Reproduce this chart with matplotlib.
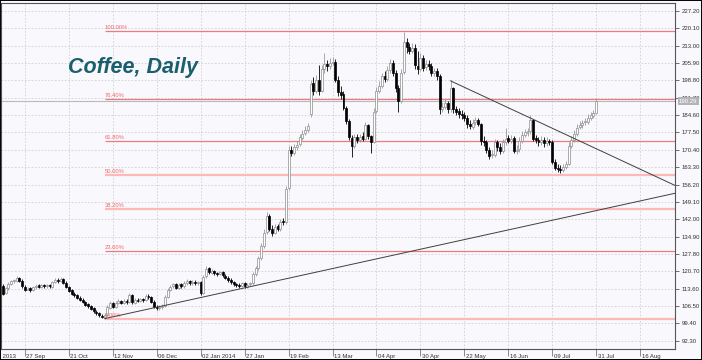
import numpy as np
import matplotlib
matplotlib.use("Agg")
import matplotlib.pyplot as plt
from matplotlib.patches import Rectangle
from matplotlib.transforms import blended_transform_factory, ScaledTranslation

# daily candles, bar 0 is the first bar visible at the left edge
opens = [
    114.6, 111.7, 113.7, 115.5, 116.7, 116.9, 117.9, 116.9, 114.4, 113.1,
    113.7, 113.0, 114.1, 114.9, 114.3, 115.1, 114.5, 115.0, 114.4, 116.4,
    117.3, 116.7, 117.5, 116.1, 114.1, 112.9, 111.4, 111.0, 109.7, 109.1,
    108.1, 107.1, 106.3, 105.5, 104.2, 103.6, 102.5, 101.9, 102.9, 105.8,
    107.7, 106.1, 107.9, 108.5, 107.8, 108.7, 108.1, 110.9, 107.9, 109.1,
    108.5, 109.3, 108.9, 110.7, 110.1, 108.3, 106.1, 105.5, 106.0, 106.5,
    110.3, 113.1, 114.5, 115.4, 113.9, 115.3, 114.5, 116.1, 116.7, 115.7,
    116.5, 115.8, 116.3, 111.9, 118.6, 121.9, 120.1, 120.9, 119.9, 119.5,
    120.4, 118.9, 118.1, 117.1, 116.4, 115.4, 115.1, 114.5, 115.9, 114.4,
    115.3, 115.7, 119.6, 121.9, 126.1, 130.9, 136.6, 143.4, 138.1, 136.4,
    139.1, 137.9, 141.1, 140.7, 154.6, 170.4, 169.1, 171.4, 172.6, 175.4,
    177.1, 178.4, 185.0, 197.6, 194.4, 199.1, 194.6, 203.4, 205.6, 204.7,
    206.1, 206.4, 199.1, 193.9, 193.1, 187.4, 182.1, 175.4, 172.1, 175.6,
    174.4, 175.9, 174.9, 180.6, 175.9, 173.6, 186.1, 194.4, 196.6, 200.6,
    199.4, 203.1, 206.1, 201.9, 195.6, 190.4, 202.1, 214.4, 212.6, 210.9,
    212.1, 204.9, 203.6, 207.9, 204.1, 205.4, 204.6, 201.9, 202.6, 200.4,
    187.1, 187.9, 189.6, 186.9, 195.6, 186.9, 186.1, 184.9, 184.6, 183.4,
    181.1, 179.9, 181.6, 182.4, 181.1, 173.9, 173.6, 170.4, 168.1, 168.4,
    173.6, 171.4, 170.1, 173.4, 175.1, 173.9, 175.1, 169.9, 170.6, 173.9,
    176.6, 177.4, 178.1, 182.4, 175.1, 174.4, 173.6, 174.4, 173.1, 173.9,
    173.6, 165.4, 163.1, 162.4, 162.1, 163.4, 164.6, 171.9, 174.6, 176.9,
    179.6, 180.4, 181.6, 181.9, 183.6, 184.4, 185.6,
]
highs = [
    115.3, 114.3, 116.2, 117.2, 117.6, 118.6, 118.4, 117.5, 115.0, 114.3,
    114.3, 114.7, 115.4, 115.3, 115.6, 115.6, 115.5, 115.5, 116.9, 117.9,
    117.8, 118.2, 118.0, 116.7, 114.7, 113.5, 112.1, 111.6, 110.4, 109.8,
    108.7, 107.8, 106.9, 106.1, 104.9, 104.2, 103.1, 103.5, 106.8, 108.6,
    108.2, 108.5, 109.3, 109.1, 109.4, 109.3, 111.8, 111.3, 109.8, 109.7,
    109.9, 109.8, 111.2, 111.4, 110.7, 108.9, 106.8, 106.7, 107.2, 110.9,
    113.9, 115.2, 116.1, 115.8, 115.9, 115.7, 116.7, 117.4, 117.1, 117.1,
    117.2, 116.9, 116.9, 119.2, 122.8, 122.4, 121.6, 121.4, 120.6, 121.0,
    120.9, 119.6, 118.7, 117.8, 116.9, 116.1, 115.8, 116.5, 116.4, 115.8,
    116.5, 120.3, 122.8, 127.0, 132.2, 137.8, 145.1, 144.0, 139.5, 140.2,
    140.0, 142.0, 142.6, 155.5, 172.0, 171.8, 172.8, 174.0, 177.0, 178.5,
    180.0, 181.2, 199.0, 200.0, 201.0, 205.0, 205.0, 210.0, 207.0, 208.0,
    208.5, 207.5, 200.5, 196.5, 194.5, 188.5, 183.0, 176.5, 177.0, 177.0,
    177.0, 177.5, 181.8, 181.0, 176.5, 187.5, 196.0, 198.5, 202.0, 202.5,
    204.5, 207.5, 207.0, 203.0, 197.0, 203.5, 218.8, 216.0, 214.0, 214.0,
    213.5, 211.0, 210.0, 209.0, 207.0, 207.0, 206.0, 204.0, 204.0, 201.5,
    190.0, 191.0, 190.5, 199.0, 196.0, 188.5, 187.5, 186.5, 186.0, 184.5,
    182.5, 183.0, 184.0, 183.5, 181.5, 176.0, 174.5, 171.5, 170.5, 175.0,
    174.5, 173.0, 175.0, 179.5, 176.5, 176.5, 176.0, 172.5, 175.5, 178.0,
    179.0, 179.5, 184.6, 183.0, 176.5, 175.5, 176.0, 175.5, 175.5, 175.0,
    174.5, 166.5, 164.5, 164.0, 164.5, 166.0, 173.5, 176.0, 178.5, 181.0,
    182.0, 182.8, 183.5, 185.0, 186.0, 186.8, 191.6,
]
lows = [
    111.0, 111.2, 113.2, 115.0, 116.0, 116.5, 116.2, 114.0, 112.6, 112.9,
    112.4, 112.6, 113.6, 113.8, 113.8, 114.0, 114.0, 114.0, 114.0, 115.8,
    116.0, 116.3, 115.5, 113.7, 112.2, 110.9, 110.3, 109.2, 108.4, 107.6,
    106.4, 105.8, 104.8, 103.7, 102.9, 102.0, 101.4, 101.0, 102.5, 105.2,
    105.6, 105.6, 107.3, 107.2, 107.3, 107.5, 107.6, 107.4, 107.4, 108.0,
    108.0, 108.3, 108.4, 109.4, 107.6, 105.6, 104.8, 105.0, 105.3, 106.0,
    109.8, 112.5, 113.8, 113.4, 113.4, 113.9, 114.0, 115.2, 115.1, 115.2,
    115.2, 115.2, 111.0, 111.5, 117.8, 119.4, 119.6, 119.2, 118.9, 119.0,
    118.4, 117.4, 116.5, 115.6, 114.8, 114.3, 113.9, 114.1, 113.9, 113.8,
    114.6, 115.1, 118.9, 121.2, 125.3, 130.2, 135.9, 137.2, 135.3, 135.8,
    137.0, 137.2, 139.5, 140.0, 153.8, 167.8, 168.3, 170.5, 171.8, 174.6,
    176.4, 177.5, 184.0, 193.0, 193.5, 193.0, 194.0, 202.0, 202.5, 203.5,
    205.0, 198.0, 192.5, 191.0, 186.5, 181.0, 174.5, 167.5, 171.0, 173.0,
    173.5, 174.0, 174.5, 175.0, 169.0, 173.0, 185.5, 193.5, 195.5, 198.0,
    198.5, 202.0, 200.5, 194.0, 186.0, 189.5, 201.5, 210.0, 209.5, 210.0,
    203.5, 201.5, 202.5, 202.5, 203.0, 203.0, 200.5, 200.5, 199.0, 185.0,
    186.0, 187.0, 185.5, 186.0, 185.5, 184.5, 183.5, 183.0, 182.0, 179.5,
    179.0, 179.0, 180.5, 180.0, 172.5, 172.0, 169.0, 166.5, 167.0, 167.5,
    170.0, 168.5, 169.0, 172.5, 173.0, 173.0, 169.0, 168.5, 169.5, 173.0,
    175.5, 176.0, 177.0, 174.0, 173.0, 172.0, 172.5, 171.5, 172.0, 172.5,
    164.5, 162.0, 161.5, 160.9, 161.5, 162.5, 164.0, 171.0, 173.5, 176.0,
    179.0, 179.5, 180.5, 181.0, 182.5, 183.5, 185.0,
]
closes = [
    111.6, 113.8, 115.6, 116.6, 117.0, 117.8, 116.8, 114.5, 113.2, 113.6,
    113.0, 114.2, 114.8, 114.4, 115.0, 114.6, 114.9, 114.5, 116.3, 117.2,
    116.8, 117.4, 116.0, 114.2, 112.8, 111.5, 110.9, 109.8, 109.0, 108.2,
    107.0, 106.4, 105.4, 104.3, 103.5, 102.6, 102.0, 102.8, 106.0, 107.6,
    106.2, 107.8, 108.4, 107.9, 108.6, 108.2, 110.8, 108.0, 109.0, 108.6,
    109.2, 109.0, 110.6, 110.2, 108.2, 106.2, 105.6, 105.9, 106.6, 110.2,
    113.2, 114.4, 115.3, 114.0, 115.2, 114.6, 116.0, 116.6, 115.8, 116.4,
    115.9, 116.2, 111.8, 118.5, 121.8, 120.2, 120.8, 120.0, 119.6, 120.3,
    119.0, 118.0, 117.2, 116.3, 115.5, 115.0, 114.6, 115.8, 114.5, 115.2,
    115.8, 119.5, 122.0, 126.0, 131.0, 136.5, 143.5, 138.0, 136.5, 139.0,
    138.0, 141.0, 140.8, 154.5, 170.5, 169.0, 171.5, 172.5, 175.5, 177.0,
    178.5, 180.0, 197.5, 194.5, 199.0, 194.5, 203.5, 205.5, 204.8, 206.0,
    206.5, 199.0, 194.0, 193.0, 187.5, 182.0, 175.5, 172.0, 175.5, 174.5,
    175.8, 175.0, 180.5, 176.0, 173.5, 186.0, 194.5, 196.5, 200.5, 199.5,
    203.0, 206.0, 202.0, 195.5, 190.5, 202.0, 214.5, 212.5, 211.0, 212.0,
    205.0, 203.5, 208.0, 204.0, 205.5, 204.5, 202.0, 202.5, 200.5, 187.0,
    188.0, 189.5, 187.0, 195.5, 187.0, 186.0, 185.0, 184.5, 183.5, 181.0,
    180.0, 181.5, 182.5, 181.0, 174.0, 173.5, 170.5, 168.0, 168.5, 173.5,
    171.5, 170.0, 173.5, 175.0, 174.0, 175.0, 170.0, 170.5, 174.0, 176.5,
    177.5, 178.0, 182.5, 175.0, 174.5, 173.5, 174.5, 173.0, 174.0, 173.5,
    165.5, 163.0, 162.5, 162.0, 163.5, 164.5, 172.0, 174.5, 177.0, 179.5,
    180.5, 181.5, 182.0, 183.5, 184.5, 185.5, 190.29,
]

date_ticks = [-8, 8, 24, 40, 56, 72, 88, 104, 120, 136, 152, 168, 184, 200, 216, 232]
date_labels = ['05 Sep 2013', '27 Sep', '21 Oct', '12 Nov', '06 Dec', '02 Jan 2014',
               '27 Jan', '19 Feb', '13 Mar', '04 Apr', '30 Apr', '22 May',
               '16 Jun', '09 Jul', '31 Jul', '16 Aug']
price_ticks = [227.20, 220.10, 213.00, 205.90, 198.80, 191.70, 184.60, 177.50,
               170.40, 163.30, 156.20, 149.10, 142.00, 134.90, 127.80, 120.70,
               113.60, 106.50, 99.40, 92.30]

# fibonacci retracement from the Nov low to the Apr high
fib_start_bar = 37
fib_low, fib_high = 101.0, 218.9
fib_levels = [1.0, 0.764, 0.618, 0.5, 0.382, 0.236, 0.0]
fib_names = ['100.00%', '76.40%', '61.80%', '50.00%', '38.20%', '23.60%', '0.00%']

# trend lines as (bar, price) anchor pairs
support_line = [(37, 101.3), (88, 113.9)]
resist_line = [(163, 198.6), (244, 156.2)]

last_price = 190.29

W, H = 702, 360
BG = '#f8f8fd'
small = ['Liberation Sans Narrow', 'Liberation Sans', 'DejaVu Sans']

fig = plt.figure(figsize=(W / 100, H / 100), dpi=100, facecolor=BG)
ax = fig.add_axes([1 / W, 11 / H, 674 / W, 346.5 / H], facecolor=BG)

x = np.arange(len(closes))
o = np.array(opens)
c = np.array(closes)
hi = np.array(highs)
lo = np.array(lows)
up = c >= o

# grid
for t in date_ticks:
    ax.axvline(t, color='#cfcfd4', lw=0.6, ls=(0, (2, 2)), zorder=0)
for p in price_ticks:
    ax.axhline(p, color='#cfcfd4', lw=0.6, ls=(0, (2, 2)), zorder=0)

# fibo levels
for lev, name in zip(fib_levels, fib_names):
    price = fib_low + lev * (fib_high - fib_low)
    thick = name in ('50.00%', '38.20%', '0.00%')
    ax.plot([fib_start_bar, 260], [price, price],
            color='#ffb8b8' if thick else '#ee7b7b',
            lw=1.6 if thick else 0.9, zorder=1, solid_capstyle='butt')
    ax.text(fib_start_bar, price + 0.6, name, fontsize=4.2, color='#f06a6a',
            family=small, ha='left', va='bottom', zorder=5)

# bid line
ax.axhline(last_price, color='#b9b9bf', lw=0.8, zorder=1)

# candles
wick_col = np.where(up, '#9a9a9a', '#000000')
ax.vlines(x, lo, hi, colors=wick_col, lw=0.6, zorder=3)
body_h = np.maximum(np.abs(c - o), 0.25)
ax.bar(x, body_h, bottom=np.minimum(o, c), width=0.72,
       color=np.where(up, '#ffffff', '#000000'),
       edgecolor=np.where(up, '#8c8c8c', '#000000'), linewidth=0.5, zorder=4)

# trend lines
for (x0, y0), (x1, y1) in (support_line, resist_line):
    k = (y1 - y0) / (x1 - x0)
    xs = np.array([x0, 260])
    ax.plot(xs, y0 + k * (xs - x0), color='#404040', lw=0.7, zorder=5)

# axes styling
for side, sp in ax.spines.items():
    sp.set_color('#555555')
    sp.set_linewidth(0.8)
ax.yaxis.tick_right()
ax.set_yticks(price_ticks)
ax.set_yticklabels([f'{p:.2f}' for p in price_ticks])
ax.set_xticks(date_ticks)
ax.set_xticklabels(date_labels)
ax.set_xlim(-0.7, 244.7)
ax.set_ylim(88.89, 230.68)
ax.tick_params(axis='y', direction='out', length=3, width=0.6, color='#555555',
               pad=1.5, labelsize=4.3, labelcolor='#333333')
ax.tick_params(axis='x', direction='out', length=5, width=0.6, color='#777777',
               pad=-1.5, labelsize=4.3, labelcolor='#333333')
for lab in ax.get_yticklabels() + ax.get_xticklabels():
    lab.set_family(small)
shift = ScaledTranslation(1.5 / 100, 0, fig.dpi_scale_trans)
for lab in ax.get_xticklabels():
    lab.set_horizontalalignment('left')
    lab.set_transform(lab.get_transform() + shift)

# the first date label sits left of the view and is cut by the frame
xtr = blended_transform_factory(ax.transData, ax.transAxes)
ax.text(date_ticks[0], -0.0141, date_labels[0], transform=xtr + shift,
        fontsize=4.3, family=small, color='#333333', ha='left', va='top',
        clip_on=False)

# last price box on the axis
tr = blended_transform_factory(ax.transAxes, ax.transData)
ax.text(1.006, last_price, f'{last_price:.2f}', transform=tr, fontsize=4.3,
        family=small, color='white', ha='left', va='center', zorder=10,
        bbox=dict(boxstyle='square,pad=0.25', fc='#b4b4b8', ec='none'),
        clip_on=False)

# title
fig.text(68 / W, 1 - 73 / H, 'Coffee, Daily', fontsize=15.5, fontweight='bold',
         fontstyle='italic', family=['Liberation Sans', 'DejaVu Sans'],
         color='#1b5f6c', ha='left', va='baseline')

# outer frame
fig.patches.append(Rectangle((0, 0), 1, 1, transform=fig.transFigure,
                             fill=False, ec='#000000', lw=1.4))

fig.savefig('out.png', dpi=100, facecolor=BG)
